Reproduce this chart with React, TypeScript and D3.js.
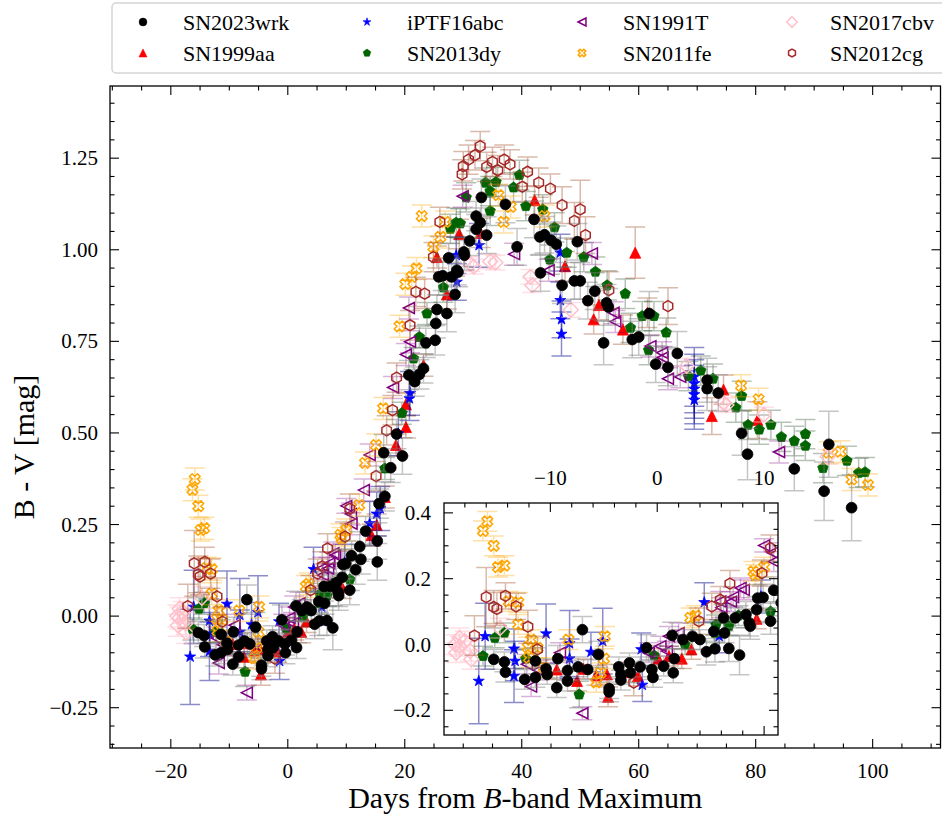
import React from "react";
import * as d3 from "d3";

// ---------------- data (phase in days, B-V colour in mag, 1-sigma error) ----------------
const wrkPhase = [-15.3,-14.3,-14.2,-12.4,-11.4,-11.4,-10.4,-10.3,-9.4,-9.3,-8.4,-8.4,-7.4,-7.0,-6.5,-5.5,-4.5,-4.5,-3.6,-3.4,-3.4,-2.6,-2.5,-1.6,-1.0,-0.5,-0.4,0.6,1.4,1.6,1.5,2.4,3.3,4.0,4.6,5.3,5.4,6.3,6.2,6.7,7.3,7.7,8.3,8.6,8.7,9.3,9.4,9.9,10.6,10.9,11.6,12.3,12.5,13.3,15.3,15.3,15.6,16.6,16.4,17.6,18.6,19.6,20.7,21.7,22.5,23.2,23.6,25.2,25.3,25.5,25.8,26.5,27.2,27.5,28.0,28.6,28.9,29.1,30.1,30.2,31.1,32.2,32.2,32.9,33.1,34.0,37.2,39.2,42.1,43.1,43.2,43.9,45.0,45.9,46.9,49.0,49.5,50.0,51.3,52.5,54.0,54.5,54.8,58.9,60.0,61.8,62.9,65.0,66.6,71.7,71.7,73.6,77.6,78.6,86.6,91.7,92.5,96.4];
const wrkColor = [-0.045,-0.053,-0.084,-0.106,-0.050,-0.100,-0.074,-0.091,-0.131,-0.043,-0.079,-0.111,-0.068,0.045,-0.076,-0.030,-0.134,-0.144,-0.068,-0.091,-0.108,-0.056,-0.086,-0.068,-0.010,-0.076,-0.100,-0.066,0.028,-0.043,-0.086,0.015,0.025,0.015,-0.022,0.040,-0.013,0.035,0.081,-0.012,0.081,-0.032,0.091,0.066,0.056,0.106,0.141,0.143,0.071,0.165,0.127,0.190,0.155,0.232,0.205,0.148,0.307,0.327,0.446,0.405,0.497,0.437,0.658,0.640,0.660,0.676,0.746,0.753,0.799,0.837,0.926,0.929,0.826,0.978,0.926,0.878,0.944,0.939,0.994,0.985,1.024,1.092,1.056,1.074,1.143,1.040,1.124,1.008,1.083,1.035,0.937,1.041,1.026,1.015,0.903,0.915,1.022,0.915,0.861,0.887,0.746,0.855,0.844,0.755,0.762,0.826,0.688,0.679,0.717,0.644,0.621,0.609,0.499,0.442,0.402,0.341,0.469,0.296];
const wrkErr = [0.03,0.03,0.03,0.03,0.04,0.03,0.03,0.03,0.03,0.04,0.03,0.03,0.03,0.04,0.03,0.04,0.03,0.03,0.03,0.03,0.03,0.03,0.03,0.03,0.04,0.03,0.03,0.03,0.04,0.03,0.03,0.03,0.04,0.03,0.04,0.03,0.04,0.03,0.04,0.04,0.03,0.06,0.04,0.04,0.04,0.04,0.04,0.04,0.04,0.04,0.04,0.04,0.04,0.04,0.05,0.05,0.04,0.04,0.05,0.04,0.04,0.05,0.04,0.04,0.04,0.04,0.04,0.04,0.04,0.04,0.05,0.04,0.05,0.04,0.04,0.05,0.04,0.04,0.04,0.04,0.04,0.04,0.04,0.04,0.05,0.05,0.05,0.05,0.05,0.05,0.05,0.05,0.05,0.05,0.05,0.05,0.05,0.05,0.05,0.05,0.06,0.05,0.05,0.05,0.05,0.06,0.05,0.05,0.06,0.06,0.06,0.05,0.06,0.07,0.06,0.08,0.09,0.09];

const aaPhase = [-9.4,-7.5,-6.9,-5.7,-4.7,-4.6,-2.5,-1.8,0.1,1.1,2.3,3.2,9.3,14.3,15.2,16.6,18.5,20.2,20.2,23.2,25.5,27.2,29.3,33.0,42.2,47.4,52.3,53.2,57.3,59.4,61.5,72.5,74.5,80.3];
const aaColor = [-0.076,-0.111,-0.074,-0.094,-0.091,-0.159,-0.084,-0.096,-0.043,-0.035,-0.043,-0.015,0.078,0.221,0.249,0.325,0.467,0.516,0.578,0.685,0.980,0.878,1.043,1.046,1.135,0.955,0.810,0.849,0.782,0.992,0.828,0.546,0.618,0.535];
const aaErr = [0.03,0.03,0.03,0.03,0.03,0.03,0.03,0.03,0.03,0.03,0.03,0.03,0.03,0.03,0.03,0.03,0.03,0.03,0.03,0.03,0.03,0.04,0.04,0.04,0.04,0.04,0.04,0.04,0.04,0.07,0.04,0.05,0.04,0.05];

const abcPhase = [-16.7,-16.1,-13.4,-13.3,-13.4,-10.4,-8.2,-8.2,-6.2,-5.1,-1.5,-1.4,4.4,5.8,9.7,14.0,15.2,15.8,18.9,20.8,20.9,28.8,28.9,32.7,46.6,46.6,46.8,46.8,69.5,69.5,69.5,69.5,69.5];
const abcColor = [-0.111,0.025,-0.013,-0.050,-0.096,0.033,0.003,-0.043,-0.023,0.010,-0.015,-0.123,0.128,0.025,0.146,0.253,0.279,0.294,0.498,0.594,0.608,0.985,0.912,1.012,0.992,0.862,0.810,0.770,0.653,0.635,0.620,0.605,0.590];
const abcErr = [0.13,0.10,0.06,0.06,0.08,0.09,0.10,0.06,0.06,0.10,0.05,0.05,0.06,0.05,0.05,0.06,0.06,0.06,0.06,0.06,0.06,0.05,0.05,0.06,0.05,0.05,0.05,0.06,0.08,0.08,0.08,0.08,0.08];

const dyPhase = [-16.3,-15.2,-14.3,-12.3,-7.3,-0.3,2.6,5.4,5.5,6.7,7.6,10.6,16.6,19.5,21.5,22.5,23.8,26.6,27.8,28.8,29.5,30.5,33.8,34.6,34.6,35.6,38.6,39.6,40.7,43.6,44.8,45.6,47.7,50.6,52.6,54.6,57.7,58.6,60.6,61.7,62.6,64.7,68.5,70.6,72.7,76.6,77.6,78.7,80.6,82.6,84.4,86.6,88.5,88.5,91.5,95.6,97.6,98.7];
const dyColor = [-0.035,0.020,0.035,-0.043,-0.152,-0.033,0.000,0.035,0.060,0.056,0.088,0.100,0.403,0.554,0.703,0.762,0.826,0.897,1.057,1.074,1.072,1.143,1.183,1.160,1.106,1.185,1.170,1.204,1.119,1.110,0.973,1.061,0.992,0.980,0.940,0.903,0.880,0.787,0.819,0.726,0.819,0.774,0.655,0.670,0.648,0.569,0.601,0.522,0.509,0.522,0.489,0.478,0.497,0.465,0.404,0.424,0.391,0.393];
const dyErr = [0.03,0.03,0.03,0.03,0.04,0.03,0.03,0.03,0.03,0.03,0.03,0.03,0.03,0.03,0.03,0.03,0.03,0.04,0.04,0.04,0.04,0.04,0.04,0.04,0.04,0.04,0.04,0.04,0.04,0.04,0.04,0.04,0.04,0.04,0.04,0.04,0.04,0.04,0.04,0.04,0.04,0.04,0.04,0.04,0.04,0.04,0.04,0.04,0.04,0.04,0.04,0.04,0.04,0.04,0.04,0.04,0.04,0.04];

const t91Phase = [-12.2,-11.8,-11.1,-9.1,-7.0,-0.8,0.3,0.9,1.1,2.0,5.9,6.0,6.9,7.1,7.8,8.1,10.0,10.8,10.9,13.0,14.0,18.0,20.2,20.7,20.9,29.9,38.7,44.6,52.0,55.7,56.0,62.0,64.0,64.1,65.0,67.1,84.0];
const t91Color = [-0.060,-0.128,-0.078,-0.025,-0.209,-0.025,-0.005,-0.020,0.025,0.035,0.131,0.112,0.130,0.144,0.172,0.166,0.301,0.279,0.252,0.344,0.440,0.624,0.714,0.841,0.749,1.146,0.988,0.944,0.990,0.828,0.804,0.737,0.719,0.706,0.648,0.653,0.448];
const t91Err = [0.03,0.03,0.03,0.03,0.02,0.03,0.03,0.03,0.03,0.03,0.03,0.03,0.03,0.03,0.03,0.03,0.02,0.03,0.03,0.03,0.03,0.03,0.03,0.03,0.03,0.03,0.03,0.03,0.03,0.03,0.03,0.03,0.03,0.03,0.03,0.03,0.03];

const feePhase = [-16.3,-15.9,-15.3,-14.9,-14.3,-13.9,-13.0,-13.0,-12.1,-12.0,-11.8,-11.2,-10.6,-8.3,-5.7,-5.3,-5.0,-4.9,3.1,3.6,9.0,9.2,10.0,12.2,13.2,15.1,16.3,19.1,20.1,21.2,22.0,22.9,24.9,26.1,26.9,36.0,36.9,38.1,43.9,77.5,80.5,92.5,94.5,96.4,99.2];
const feeColor = [0.345,0.374,0.300,0.235,0.240,0.131,0.128,0.061,-0.008,-0.040,0.015,-0.010,-0.070,0.015,-0.115,-0.086,-0.043,0.025,0.081,0.088,0.222,0.212,0.235,0.303,0.418,0.467,0.567,0.791,0.906,0.926,0.949,1.092,1.008,1.035,1.076,1.149,1.076,1.117,1.092,0.629,0.592,0.446,0.449,0.373,0.358];
const feeErr = [0.03,0.03,0.03,0.03,0.03,0.03,0.03,0.03,0.03,0.03,0.03,0.03,0.03,0.03,0.03,0.03,0.03,0.03,0.03,0.03,0.03,0.03,0.03,0.03,0.03,0.03,0.03,0.03,0.03,0.03,0.03,0.03,0.03,0.03,0.03,0.03,0.03,0.03,0.03,0.03,0.03,0.03,0.03,0.03,0.03];

const cbvPhase = [-18.9,-18.8,-18.5,-18.5,-18.0,-17.5,-17.4,-14.7,31.2,31.8,34.6,35.5,41.5,41.8,48.4,68.2,74.5,75.0,81.4,92.3];
const cbvColor = [0.000,-0.025,0.020,-0.005,0.010,-0.020,-0.045,0.050,0.961,0.954,0.968,0.965,0.926,0.903,0.836,0.683,0.582,0.576,0.550,0.435];
const cbvErr = [0.03,0.03,0.03,0.03,0.03,0.03,0.03,0.03,0.02,0.02,0.02,0.02,0.02,0.02,0.02,0.02,0.02,0.02,0.02,0.02];

const cgPhase = [-17.1,-16.0,-15.3,-15.0,-14.2,-13.2,-12.1,-11.2,-2.2,3.9,5.1,5.9,6.8,9.8,10.6,15.1,16.9,17.9,18.6,20.9,21.9,23.4,24.9,26.0,29.8,30.0,30.9,32.0,32.9,34.0,35.0,35.9,37.0,38.0,40.1,41.0,42.9,44.9,46.9,49.0,50.0,50.9,54.9,65.0];
const cgColor = [0.027,0.144,0.114,0.108,0.148,0.116,0.054,-0.015,-0.116,0.071,0.116,0.136,0.185,0.217,0.293,0.382,0.507,0.562,0.651,0.794,0.885,0.880,0.980,1.076,1.206,1.228,1.246,1.258,1.283,1.226,1.240,1.217,1.246,1.233,1.172,1.213,1.183,1.167,1.122,1.079,1.110,1.040,0.890,0.846];
const cgErr = [0.06,0.09,0.05,0.05,0.04,0.04,0.05,0.04,0.04,0.04,0.04,0.04,0.04,0.04,0.04,0.04,0.04,0.04,0.04,0.04,0.04,0.04,0.04,0.04,0.04,0.04,0.04,0.04,0.04,0.04,0.04,0.04,0.04,0.04,0.04,0.04,0.04,0.04,0.05,0.05,0.08,0.05,0.05,0.05];

const mainXTicks = [-20, 0, 20, 40, 60, 80, 100];
const mainYTicks = [-0.25, 0, 0.25, 0.5, 0.75, 1.0, 1.25];
const insetXTicks = [-10, 0, 10];
const insetYTicks = [-0.2, 0, 0.2, 0.4];

// ---------------- styles ----------------
type Shape = "circle" | "triUp" | "star" | "pentagon" | "triLeft" | "xfill" | "diamond" | "hexagon";
interface Series {
  name: string; phase: number[]; color: number[]; err: number[];
  shape: Shape; fill: string; stroke: string; ecolor: string; ealpha: number;
}
const S_WRK: Series = { name: "SN2023wrk", phase: wrkPhase, color: wrkColor, err: wrkErr, shape: "circle", fill: "#000000", stroke: "#000000", ecolor: "#7f7f7f", ealpha: 0.45 };
const S_AA: Series = { name: "SN1999aa", phase: aaPhase, color: aaColor, err: aaErr, shape: "triUp", fill: "#ff0000", stroke: "#ff0000", ecolor: "#a0522d", ealpha: 0.4 };
const S_ABC: Series = { name: "iPTF16abc", phase: abcPhase, color: abcColor, err: abcErr, shape: "star", fill: "#0000ff", stroke: "#0000ff", ecolor: "#00008b", ealpha: 0.45 };
const S_DY: Series = { name: "SN2013dy", phase: dyPhase, color: dyColor, err: dyErr, shape: "pentagon", fill: "#006400", stroke: "#006400", ecolor: "#2f4f2f", ealpha: 0.35 };
const S_91T: Series = { name: "SN1991T", phase: t91Phase, color: t91Color, err: t91Err, shape: "triLeft", fill: "none", stroke: "#800080", ecolor: "#800080", ealpha: 0.3 };
const S_FE: Series = { name: "SN2011fe", phase: feePhase, color: feeColor, err: feeErr, shape: "xfill", fill: "none", stroke: "#ffa500", ecolor: "#ffa500", ealpha: 0.35 };
const S_CBV: Series = { name: "SN2017cbv", phase: cbvPhase, color: cbvColor, err: cbvErr, shape: "diamond", fill: "none", stroke: "#ffc0cb", ecolor: "#ffc0cb", ealpha: 0.5 };
const S_CG: Series = { name: "SN2012cg", phase: cgPhase, color: cgColor, err: cgErr, shape: "hexagon", fill: "none", stroke: "#a52a2a", ecolor: "#a0522d", ealpha: 0.4 };

const drawOrder: Series[] = [S_AA, S_ABC, S_DY, S_91T, S_FE, S_CBV, S_CG, S_WRK];
const legendCols: Series[][] = [[S_WRK, S_AA], [S_ABC, S_DY], [S_91T, S_FE], [S_CBV, S_CG]];

const FONT = "'Liberation Serif', 'Times New Roman', serif";

function poly(pts: [number, number][]): string {
  return "M" + pts.map((p) => p[0].toFixed(2) + "," + p[1].toFixed(2)).join("L") + "Z";
}
function regular(n: number, R: number, start: number): string {
  const pts: [number, number][] = [];
  for (let i = 0; i < n; i++) {
    const a = ((start + (i * 360) / n) * Math.PI) / 180;
    pts.push([R * Math.cos(a), R * Math.sin(a)]);
  }
  return poly(pts);
}
function markerPath(shape: Shape, k: number): string {
  const s = 11 * k;
  switch (shape) {
    case "circle": {
      const r = 5.4 * k;
      return `M${r},0A${r},${r} 0 1,1 ${-r},0A${r},${r} 0 1,1 ${r},0Z`;
    }
    case "triUp":
      return poly([[0, -s / 2], [-s / 2, s / 2], [s / 2, s / 2]]);
    case "triLeft":
      return poly([[-s / 2, 0], [s / 2, -s / 2], [s / 2, s / 2]]);
    case "star": {
      const R = s * 0.53, r = R * 0.382;
      const pts: [number, number][] = [];
      for (let i = 0; i < 10; i++) {
        const a = ((-90 + i * 36) * Math.PI) / 180;
        const rr = i % 2 === 0 ? R : r;
        pts.push([rr * Math.cos(a), rr * Math.sin(a)]);
      }
      return poly(pts);
    }
    case "pentagon":
      return regular(5, s * 0.5, -90);
    case "hexagon":
      return regular(6, s * 0.5, -90);
    case "diamond": {
      const h = 7.4 * k;
      return poly([[0, -h], [h, 0], [0, h], [-h, 0]]);
    }
    case "xfill": {
      const base: [number, number][] = [[-1, -3], [1, -3], [1, -1], [3, -1], [3, 1], [1, 1], [1, 3], [-1, 3], [-1, 1], [-3, 1], [-3, -1], [-1, -1]];
      const c = Math.cos(Math.PI / 4), sn = Math.sin(Math.PI / 4);
      return poly(base.map(([px, py]) => {
        const ux = (px / 6) * s * 1.02, uy = (py / 6) * s * 1.02;
        return [ux * c - uy * sn, ux * sn + uy * c] as [number, number];
      }));
    }
  }
  return "";
}

type Scale = d3.ScaleLinear<number, number>;

function DataLayer({ xs, ys }: { xs: Scale; ys: Scale }) {
  const cap = 10;
  return (
    <g>
      {drawOrder.map((s) => {
        const d = markerPath(s.shape, 1);
        const hollow = s.fill === "none";
        return (
          <g key={s.name}>
            <g stroke={s.ecolor} strokeOpacity={s.ealpha} strokeWidth={1.5} fill="none">
              {s.phase.map((p, i) => {
                const X = xs(p), y1 = ys(s.color[i] - s.err[i]), y2 = ys(s.color[i] + s.err[i]);
                return (
                  <path key={i} d={`M${X},${y1}V${y2}M${X - cap},${y1}H${X + cap}M${X - cap},${y2}H${X + cap}`} />
                );
              })}
            </g>
            <g>
              {s.phase.map((p, i) => (
                <path key={i} d={d} transform={`translate(${xs(p)},${ys(s.color[i])})`}
                  fill={s.fill} stroke={s.stroke} strokeWidth={hollow ? 1.5 : 0.8} strokeLinejoin="miter" />
              ))}
            </g>
          </g>
        );
      })}
    </g>
  );
}

const fmtMinus = (t: string) => t.replace("-", "\u2212");

export default function App() {
  const L = 110, R = 940.5, T = 86, B = 748;
  const x = d3.scaleLinear().domain([-30.4, 111.6]).range([L, R]);
  const y = d3.scaleLinear().domain([-0.36, 1.447]).range([B, T]);

  const iL = 444, iR = 778, iT = 503, iB = 735;
  const xi = d3.scaleLinear().domain([-19.95, 11.3]).range([iL, iR]);
  const yi = d3.scaleLinear().domain([-0.275, 0.43]).range([iB, iT]);

  const MAJ = 9, MIN = 4.5;
  const xMinor = d3.range(-30, 112.01, 5).filter((v) => v % 20 !== 0);
  const yMinor = d3.range(-35, 145, 5).map((v) => v / 100).filter((v) => Math.abs((v * 100) % 25) > 0.01);
  const xiMinor = d3.range(-18, 11.3, 2).filter((v) => v % 10 !== 0);
  const yiMinor = d3.range(-25, 43, 5).map((v) => v / 100).filter((v) => Math.abs(Math.round(v * 100) % 20) !== 0);

  const tickStroke = { stroke: "#000", strokeWidth: 1.1 } as const;

  return (
    <svg width={942} height={818} style={{ position: "absolute", left: 0, top: 0, background: "#fff" }} fontFamily={FONT}>
      <defs>
        <clipPath id="mainClip"><rect x={L} y={T} width={R - L} height={B - T} /></clipPath>
        <clipPath id="insetClip"><rect x={iL} y={iT} width={iR - iL} height={iB - iT} /></clipPath>
      </defs>
      <rect x={0} y={0} width={942} height={818} fill="#fff" />

      {/* legend */}
      <rect x={112} y={3} width={850} height={70} rx={4} fill="#fff" stroke="#d5d5d5" strokeWidth={1.5} />
      {legendCols.map((col, ci) => {
        const mx = [143, 367, 582, 792][ci];
        const tx = [183, 407, 623, 830][ci];
        return col.map((s, ri) => {
          const cy = [22, 53][ri];
          return (
            <g key={s.name}>
              <path d={markerPath(s.shape, 0.72)} transform={`translate(${mx},${cy})`} fill={s.fill} stroke={s.stroke}
                strokeWidth={s.fill === "none" ? 1.5 : 0.6} />
              <text x={tx} y={cy + 7.5} fontSize={22} fill="#000">{s.name}</text>
            </g>
          );
        });
      })}

      {/* main data */}
      <g clipPath="url(#mainClip)">
        <DataLayer xs={x} ys={y} />
      </g>

      {/* main frame & ticks */}
      <rect x={L} y={T} width={R - L} height={B - T} fill="none" stroke="#000" strokeWidth={1.3} />
      <g {...tickStroke}>
        {mainXTicks.map((v) => (
          <g key={"mx" + v}>
            <line x1={x(v)} x2={x(v)} y1={B} y2={B - MAJ} />
            <line x1={x(v)} x2={x(v)} y1={T} y2={T + MAJ} />
          </g>
        ))}
        {xMinor.map((v) => (
          <g key={"mnx" + v}>
            <line x1={x(v)} x2={x(v)} y1={B} y2={B - MIN} />
            <line x1={x(v)} x2={x(v)} y1={T} y2={T + MIN} />
          </g>
        ))}
        {mainYTicks.map((v) => (
          <g key={"my" + v}>
            <line x1={L} x2={L + MAJ} y1={y(v)} y2={y(v)} />
            <line x1={R} x2={R - MAJ} y1={y(v)} y2={y(v)} />
          </g>
        ))}
        {yMinor.map((v) => (
          <g key={"mny" + v}>
            <line x1={L} x2={L + MIN} y1={y(v)} y2={y(v)} />
            <line x1={R} x2={R - MIN} y1={y(v)} y2={y(v)} />
          </g>
        ))}
      </g>
      <g fontSize={21} fill="#000">
        {mainXTicks.map((v) => (
          <text key={"lx" + v} x={x(v)} y={B + 30} textAnchor="middle">{fmtMinus(d3.format("d")(v))}</text>
        ))}
        {mainYTicks.map((v) => (
          <text key={"ly" + v} x={L - 12} y={y(v) + 7} textAnchor="end">{fmtMinus(d3.format(".2f")(v))}</text>
        ))}
      </g>
      <text x={(L + R) / 2} y={808} fontSize={30} textAnchor="middle" fill="#000">
        Days from <tspan fontStyle="italic">B</tspan>-band Maximum
      </text>
      <text transform={`translate(34,447) rotate(-90)`} fontSize={30} textAnchor="middle" fill="#000">B - V [mag]</text>

      {/* inset */}
      <rect x={iL} y={iT} width={iR - iL} height={iB - iT} fill="#fff" />
      <g clipPath="url(#insetClip)">
        <DataLayer xs={xi} ys={yi} />
      </g>
      <rect x={iL} y={iT} width={iR - iL} height={iB - iT} fill="none" stroke="#000" strokeWidth={1.3} />
      <g {...tickStroke}>
        {insetXTicks.map((v) => (
          <g key={"ix" + v}>
            <line x1={xi(v)} x2={xi(v)} y1={iB} y2={iB - MAJ} />
            <line x1={xi(v)} x2={xi(v)} y1={iT} y2={iT + MAJ} />
          </g>
        ))}
        {xiMinor.map((v) => (
          <g key={"inx" + v}>
            <line x1={xi(v)} x2={xi(v)} y1={iB} y2={iB - MIN} />
            <line x1={xi(v)} x2={xi(v)} y1={iT} y2={iT + MIN} />
          </g>
        ))}
        {insetYTicks.map((v) => (
          <g key={"iy" + v}>
            <line x1={iL} x2={iL + MAJ} y1={yi(v)} y2={yi(v)} />
            <line x1={iR} x2={iR - MAJ} y1={yi(v)} y2={yi(v)} />
          </g>
        ))}
        {yiMinor.map((v) => (
          <g key={"iny" + v}>
            <line x1={iL} x2={iL + MIN} y1={yi(v)} y2={yi(v)} />
            <line x1={iR} x2={iR - MIN} y1={yi(v)} y2={yi(v)} />
          </g>
        ))}
      </g>
      <g fontSize={21} fill="#000">
        {insetXTicks.map((v) => (
          <text key={"ilx" + v} x={xi(v)} y={iT - 18} textAnchor="middle">{fmtMinus(d3.format("d")(v))}</text>
        ))}
        {insetYTicks.map((v) => (
          <text key={"ily" + v} x={iL - 13} y={yi(v) + 7} textAnchor="end">{fmtMinus(d3.format(".1f")(v))}</text>
        ))}
      </g>
    </svg>
  );
}
